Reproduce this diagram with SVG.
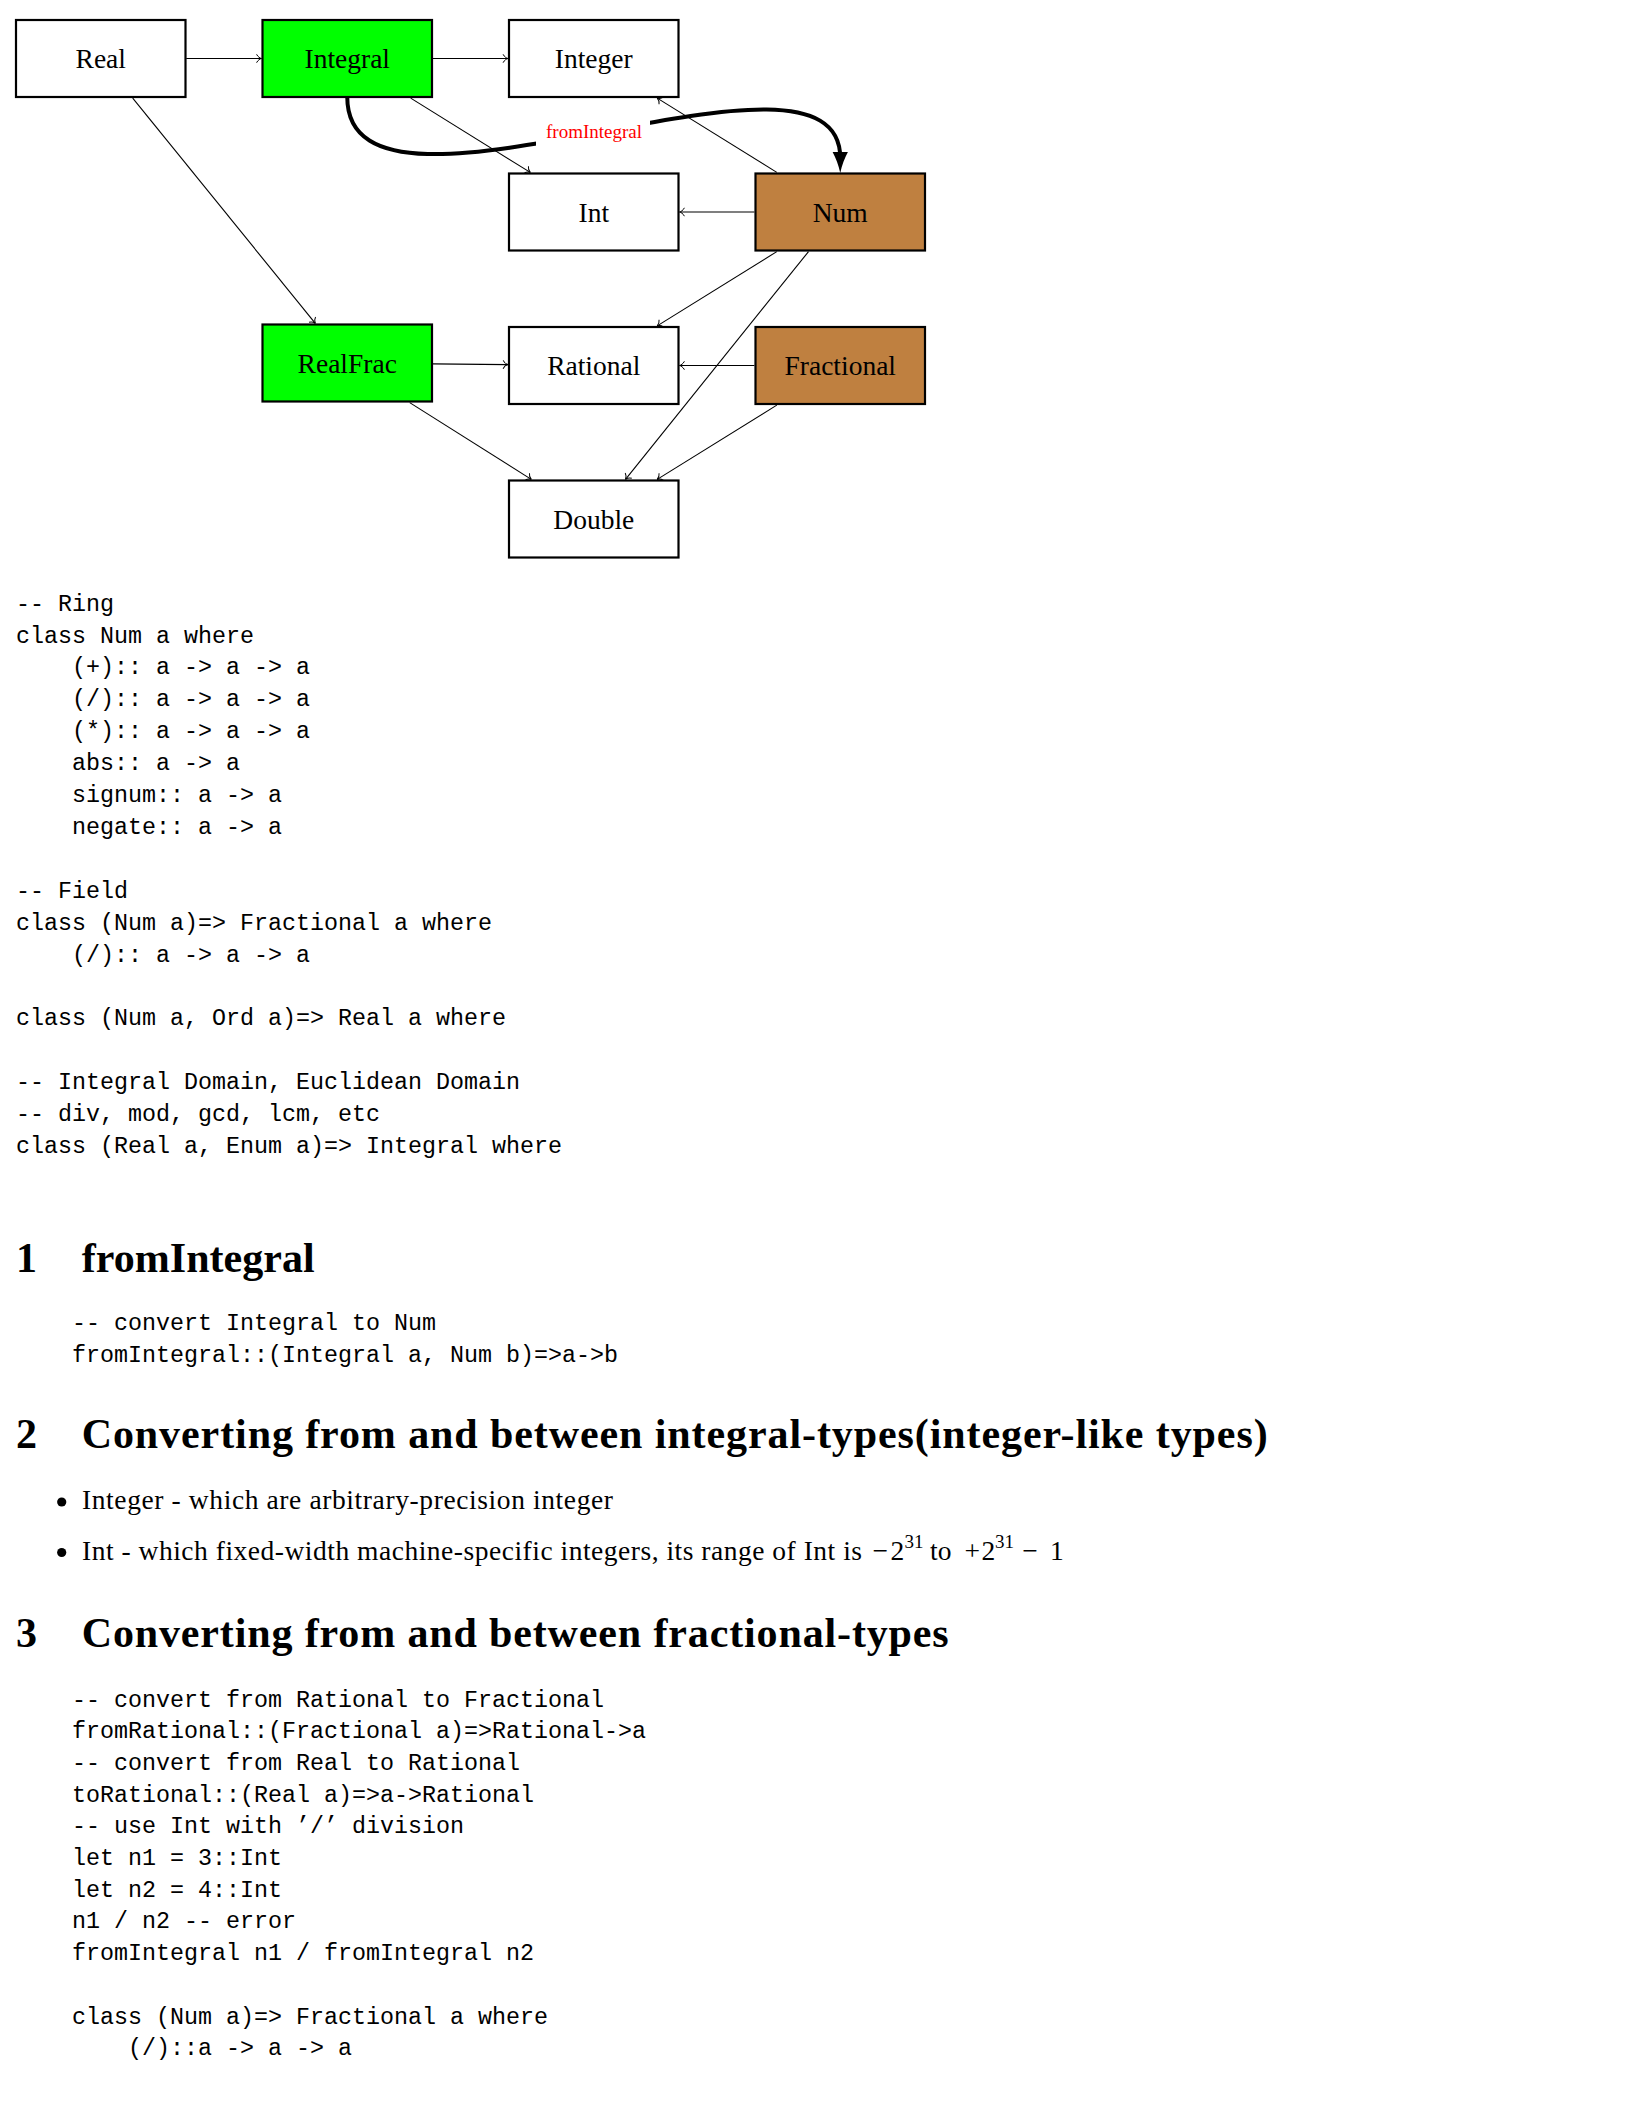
<svg xmlns="http://www.w3.org/2000/svg" width="1632" height="2112" viewBox="0 0 1632 2112">
<style>
.box{stroke:#000;stroke-width:2.2}
.w{fill:#fff}
.g{fill:#00ff00}
.b{fill:#bf8040}
.lbl{font-family:"Liberation Serif","Times New Roman",serif;font-size:27.5px;text-anchor:middle;fill:#000}
.edge{stroke:#000;stroke-width:1.1;fill:none;marker-end:url(#to)}
.code{font-family:"Liberation Mono","DejaVu Sans Mono",monospace;font-size:23.33px;fill:#000;white-space:pre}
.h{font-family:"Liberation Serif","Times New Roman",serif;font-weight:bold;font-size:42px;fill:#000}
.body{font-family:"Liberation Serif","Times New Roman",serif;font-size:27.5px;fill:#000}
.mid{text-anchor:middle}
.sup{font-family:"Liberation Serif","Times New Roman",serif;font-size:19px;fill:#000}
</style>
<defs>
<marker id="to" viewBox="-6 -5 7 10" refX="0" refY="0" markerWidth="7" markerHeight="10" markerUnits="userSpaceOnUse" orient="auto">
<path d="M-4.8,-4.2 C-3.6,-1.6 -1.2,-0.3 0,0 C-1.2,0.3 -3.6,1.6 -4.8,4.2" fill="none" stroke="#000" stroke-width="1"/>
</marker>
</defs>
<rect x="0" y="0" width="1632" height="2112" fill="#fff"/>

<g id="node-real"><rect class="box w" x="16" y="20" width="169.5" height="77"/><text class="lbl" x="100.75" y="68">Real</text></g>
<g id="node-integral"><rect class="box g" x="262.5" y="20" width="169.5" height="77"/><text class="lbl" x="347.25" y="68">Integral</text></g>
<g id="node-integer"><rect class="box w" x="509" y="20" width="169.5" height="77"/><text class="lbl" x="593.75" y="68">Integer</text></g>
<g id="node-int"><rect class="box w" x="509" y="173.5" width="169.5" height="77"/><text class="lbl" x="593.75" y="221.5">Int</text></g>
<g id="node-num"><rect class="box b" x="755.5" y="173.5" width="169.5" height="77"/><text class="lbl" x="840.25" y="221.5">Num</text></g>
<g id="node-realfrac"><rect class="box g" x="262.5" y="324.5" width="169.5" height="77"/><text class="lbl" x="347.25" y="372.5">RealFrac</text></g>
<g id="node-rational"><rect class="box w" x="509" y="327" width="169.5" height="77"/><text class="lbl" x="593.75" y="375">Rational</text></g>
<g id="node-fractional"><rect class="box b" x="755.5" y="327" width="169.5" height="77"/><text class="lbl" x="840.25" y="375">Fractional</text></g>
<g id="node-double"><rect class="box w" x="509" y="480.5" width="169.5" height="77"/><text class="lbl" x="593.75" y="528.5">Double</text></g>

<g id="connectors">
<path class="edge" d="M186.2,58.5 L261.4,58.5"/>
<path class="edge" d="M432.9,58.5 L507.9,58.5"/>
<path class="edge" d="M410.7,98.1 L530.3,172.4"/>
<path class="edge" d="M776.8,172.4 L657.2,98.1"/>
<path class="edge" d="M754.4,212 L679.6,212"/>
<path class="edge" d="M132.7,98.1 L315.3,323.4"/>
<path class="edge" d="M432.9,363.9 L507.9,364.6"/>
<path class="edge" d="M754.4,365.5 L679.6,365.5"/>
<path class="edge" d="M776.8,251.6 L657.2,325.9"/>
<path class="edge" d="M808.5,251.6 L625.5,479.4"/>
<path class="edge" d="M776.8,405.1 L657.2,479.4"/>
<path class="edge" d="M409.7,402.6 L531.3,479.4"/>
<g id="edge-fromIntegral">
<path d="M347.25,97 C347.25,258 840.25,12 840.25,158" fill="none" stroke="#000" stroke-width="4"/>
<path d="M840.25,173 C838.6,165 835.8,158 832.6,152 L847.9,152 C844.7,158 841.9,165 840.25,173Z" fill="#000"/>
<rect x="536" y="108" width="114" height="46" fill="#fff"/>
<text x="594" y="138.3" font-family="'Liberation Serif','Times New Roman',serif" font-size="19" fill="#ff0000" text-anchor="middle">fromIntegral</text>
</g>
</g>

<g id="code-classes" class="code">
<text x="16" y="610.6">-- Ring</text>
<text x="16" y="642.5">class Num a where</text>
<text x="72" y="674.4">(+):: a -&gt; a -&gt; a</text>
<text x="72" y="706.3">(/):: a -&gt; a -&gt; a</text>
<text x="72" y="738.2">(*):: a -&gt; a -&gt; a</text>
<text x="72" y="770.1">abs:: a -&gt; a</text>
<text x="72" y="802">signum:: a -&gt; a</text>
<text x="72" y="833.9">negate:: a -&gt; a</text>
<text x="16" y="897.7">-- Field</text>
<text x="16" y="929.6">class (Num a)=&gt; Fractional a where</text>
<text x="72" y="961.5">(/):: a -&gt; a -&gt; a</text>
<text x="16" y="1025.3">class (Num a, Ord a)=&gt; Real a where</text>
<text x="16" y="1089.1">-- Integral Domain, Euclidean Domain</text>
<text x="16" y="1121">-- div, mod, gcd, lcm, etc</text>
<text x="16" y="1152.9">class (Real a, Enum a)=&gt; Integral where</text>
</g>

<g id="section-1">
<text class="h" x="16" y="1271.7">1</text>
<text class="h" x="81.7" y="1271.7" textLength="233" lengthAdjust="spacing">fromIntegral</text>
<text class="code" x="72" y="1330">-- convert Integral to Num</text>
<text class="code" x="72" y="1361.7">fromIntegral::(Integral a, Num b)=&gt;a-&gt;b</text>
</g>

<g id="section-2">
<text class="h" x="16" y="1448.3">2</text>
<text class="h" x="81.7" y="1448.3" textLength="1186" lengthAdjust="spacing">Converting from and between integral-types(integer-like types)</text>
<circle cx="61.7" cy="1502" r="4.6" fill="#000"/>
<text class="body" x="82" y="1509" textLength="531" lengthAdjust="spacing">Integer - which are arbitrary-precision integer</text>
<circle cx="61.7" cy="1552.5" r="4.6" fill="#000"/>
<text class="body" x="82" y="1559.5" textLength="780" lengthAdjust="spacing">Int - which fixed-width machine-specific integers, its range of Int is</text>
<text class="body mid" x="880.3" y="1559.5">−</text>
<text class="body" x="890.5" y="1559.5">2</text>
<text class="sup" x="904.5" y="1548">31</text>
<text class="body" x="930" y="1559.5">to</text>
<text class="body mid" x="972.3" y="1559.5">+</text>
<text class="body" x="981.5" y="1559.5">2</text>
<text class="sup" x="995" y="1548">31</text>
<text class="body mid" x="1030" y="1559.5">−</text>
<text class="body" x="1050" y="1559.5">1</text>
</g>

<g id="section-3">
<text class="h" x="16" y="1646.7">3</text>
<text class="h" x="81.7" y="1646.7" textLength="867" lengthAdjust="spacing">Converting from and between fractional-types</text>
<g class="code">
<text x="72" y="1706.5">-- convert from Rational to Fractional</text>
<text x="72" y="1738.2">fromRational::(Fractional a)=&gt;Rational-&gt;a</text>
<text x="72" y="1769.9">-- convert from Real to Rational</text>
<text x="72" y="1801.6">toRational::(Real a)=&gt;a-&gt;Rational</text>
<text x="72" y="1833.3">-- use Int with ’/’ division</text>
<text x="72" y="1865">let n1 = 3::Int</text>
<text x="72" y="1896.7">let n2 = 4::Int</text>
<text x="72" y="1928.4">n1 / n2 -- error</text>
<text x="72" y="1960.1">fromIntegral n1 / fromIntegral n2</text>
<text x="72" y="2023.5">class (Num a)=&gt; Fractional a where</text>
<text x="128" y="2055.2">(/)::a -&gt; a -&gt; a</text>
</g>
</g>
</svg>
